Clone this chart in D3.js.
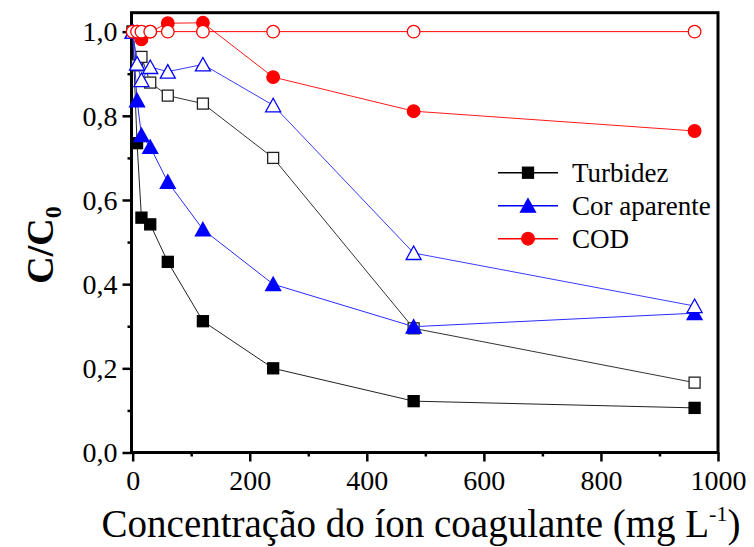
<!DOCTYPE html>
<html>
<head>
<meta charset="utf-8">
<script src="https://cdn.jsdelivr.net/npm/d3@7"></script>
<style>
  body { margin: 0; background: #fff; }
  text { font-family: "Liberation Serif", "Times New Roman", serif; }
</style>
</head>
<body>
<svg id="chart" width="754" height="547"></svg>
<script>
// concentration of coagulant ion (mg/L)
const conc = [0, 7.5, 15, 30, 60, 120, 240, 480, 960];

// C/C0 values
const turbidez        = [1.0, 0.735, 0.558, 0.542, 0.453, 0.312, 0.200, 0.122, 0.106];
const turbidezOpen    = [1.0, 0.92, 0.94, 0.879, 0.848, 0.829, 0.700, 0.295, 0.166];
const corAparente     = [1.0, 0.837, 0.754, 0.726, 0.643, 0.530, 0.400, 0.299, 0.331];
const corAparenteOpen = [1.0, 0.924, 0.885, 0.916, 0.905, 0.922, 0.825, 0.474, 0.348];
const cod             = [1.0, 1.0, 0.982, 1.0, 1.02, 1.021, 0.892, 0.811, 0.764];
const codOpen         = [1.0, 1.0, 1.0, 1.0, 1.0, 1.0, 1.0, 1.0, 1.0];

const xTicks = [0, 200, 400, 600, 800, 1000];
const yTicks = [0, 0.2, 0.4, 0.6, 0.8, 1.0];
const legendLabels = ["Turbidez", "Cor aparente", "COD"];

const svg = d3.select("#chart");

// plot area
const pLeft = 131.5, pRight = 718, pTop = 12.7, pBottom = 452.5;

const x = d3.scaleLinear().domain([-2, 1000]).range([pLeft, pRight]);
const y = d3.scaleLinear().domain([0, 1.045]).range([pBottom, pTop]);

const fmt = d => d3.format(".1f")(d).replace(".", ",");

// minor ticks
const xMinor = d3.range(100, 1000, 200);
const yMinor = d3.range(0.1, 1.0, 0.2);

// x axis
const gx = svg.append("g").attr("transform", "translate(0," + pBottom + ")");
gx.call(d3.axisBottom(x).tickValues(xTicks).tickSize(9).tickPadding(9).tickFormat(d3.format("d")));
gx.append("g").call(d3.axisBottom(x).tickValues(xMinor).tickSize(4).tickFormat(""));
gx.selectAll("text").attr("font-size", 28).attr("fill", "#000");

// y axis
const gy = svg.append("g").attr("transform", "translate(" + pLeft + ",0)");
gy.call(d3.axisLeft(y).tickValues(yTicks).tickSize(9).tickPadding(5).tickFormat(fmt));
gy.append("g").call(d3.axisLeft(y).tickValues(yMinor).tickSize(4).tickFormat(""));
gy.selectAll("text").attr("font-size", 28).attr("fill", "#000").attr("dy", "0.33em");

svg.selectAll("g").attr("font-family", "Liberation Serif, serif");
svg.selectAll(".domain").remove();
svg.selectAll(".tick line").attr("stroke", "#000").attr("stroke-width", 2.5);

// frame
svg.append("rect")
  .attr("x", pLeft).attr("y", pTop)
  .attr("width", pRight - pLeft).attr("height", pBottom - pTop)
  .attr("fill", "none").attr("stroke", "#000").attr("stroke-width", 3);

// marker shapes
function marker(g, shape, fill, stroke) {
  if (shape === "square") {
    g.append("rect").attr("x", -5.5).attr("y", -5.5).attr("width", 11).attr("height", 11)
      .attr("fill", fill).attr("stroke", stroke).attr("stroke-width", 1.3);
  } else if (shape === "triangle") {
    g.append("path").attr("d", "M0,-7L7.5,6.5L-7.5,6.5Z")
      .attr("fill", fill).attr("stroke", stroke).attr("stroke-width", 1.3);
  } else {
    g.append("circle").attr("r", 6.3)
      .attr("fill", fill).attr("stroke", stroke).attr("stroke-width", 1.3);
  }
}

const series = [
  {vals: turbidez, shape: "square", fill: "#000", stroke: "#000", line: "#222"},
  {vals: turbidezOpen, shape: "square", fill: "#fff", stroke: "#222", line: "#333"},
  {vals: corAparente, shape: "triangle", fill: "#0000ff", stroke: "#0000ff", line: "#2b2bff"},
  {vals: corAparenteOpen, shape: "triangle", fill: "#fff", stroke: "#0000ff", line: "#3b3bff"},
  {vals: cod, shape: "circle", fill: "#ff0000", stroke: "#ff0000", line: "#ff1a1a"},
  {vals: codOpen, shape: "circle", fill: "#fff", stroke: "#ff0000", line: "#ff0000"}
];

const line = d3.line().x(d => x(d[0])).y(d => y(d[1]));

series.forEach(s => {
  const pts = conc.map((c, i) => [c, s.vals[i]]);
  svg.append("path").datum(pts).attr("d", line)
    .attr("fill", "none").attr("stroke", s.line).attr("stroke-width", 1);
  svg.append("g").selectAll("g").data(pts).join("g")
    .attr("transform", d => "translate(" + x(d[0]) + "," + y(d[1]) + ")")
    .each(function () { marker(d3.select(this), s.shape, s.fill, s.stroke); });
});

// legend
const legendItems = [
  {label: legendLabels[0], shape: "square", color: "#000"},
  {label: legendLabels[1], shape: "triangle", color: "#0000ff"},
  {label: legendLabels[2], shape: "circle", color: "#ff0000"}
];
const lg = svg.append("g");
legendItems.forEach((d, i) => {
  const yy = 172.7 + i * 33;
  lg.append("line").attr("x1", 498).attr("x2", 558).attr("y1", yy).attr("y2", yy)
    .attr("stroke", d.color).attr("stroke-width", 1.6);
  marker(lg.append("g").attr("transform", "translate(528," + yy + ")"), d.shape, d.color, d.color);
  lg.append("text").attr("x", 572).attr("y", yy).attr("dy", "0.33em")
    .attr("font-size", 27).text(d.label);
});

// axis titles
const xt = svg.append("text").attr("x", 421).attr("y", 537)
  .attr("text-anchor", "middle").attr("font-size", 39);
xt.append("tspan").text("Concentração do íon coagulante (mg L");
xt.append("tspan").attr("font-size", 22).attr("dy", -16).text("-1");
xt.append("tspan").attr("dy", 16).text(")");

const yt = svg.append("text")
  .attr("transform", "translate(53,245) rotate(-90)")
  .attr("text-anchor", "middle").attr("font-size", 38).attr("font-weight", "bold");
yt.append("tspan").text("C/C");
yt.append("tspan").attr("font-size", 24).attr("dy", 8).text("0");
</script>
</body>
</html>
